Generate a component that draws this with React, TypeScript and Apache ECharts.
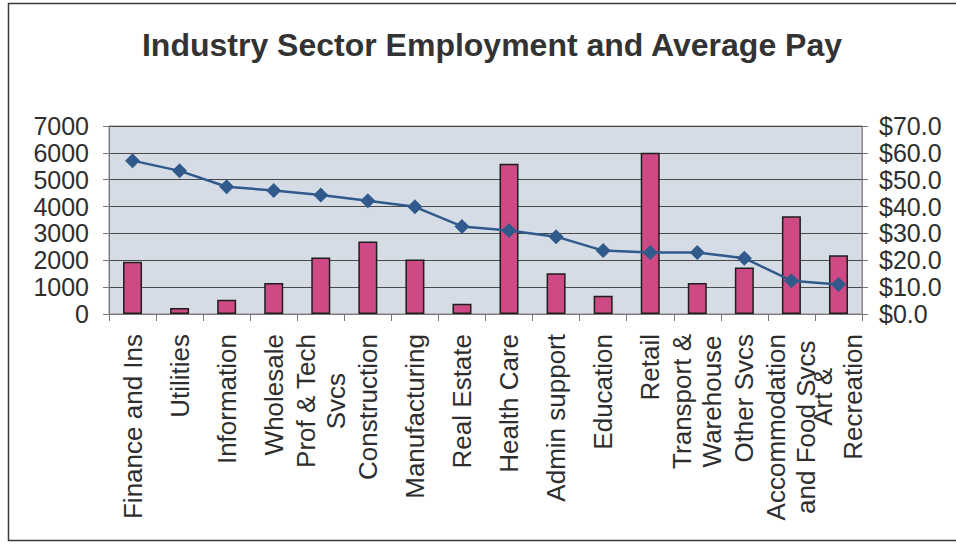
import React, { useEffect, useRef } from "react";
import * as echarts from "echarts";

const titleText = "Industry Sector Employment and Average Pay";
const categories = [
  "Finance and Ins",
  "Utilities",
  "Information",
  "Wholesale",
  "Prof & Tech\nSvcs",
  "Construction",
  "Manufacturing",
  "Real Estate",
  "Health Care",
  "Admin support",
  "Education",
  "Retail",
  "Transport &\nWarehouse",
  "Other Svcs",
  "Accommodation\nand Food Svcs",
  "Art &\nRecreation",
];
const employment = [1950, 220, 530, 1150, 2100, 2700, 2030, 380, 5590, 1520, 680, 6000, 1150, 1730, 3640, 2190];
const averagePay = [57.1, 53.3, 47.4, 46.0, 44.3, 42.2, 39.9, 32.6, 31.1, 28.8, 23.6, 22.9, 22.9, 20.8, 12.4, 11.0];

const FONT = "'Liberation Sans', Arial, Helvetica, sans-serif";
const TEXT = "#2e2e2e";
const CAT_FONT_SIZE = 26;

function measure(text: string, size: number): number {
  const c = document.createElement("canvas");
  const ctx = c.getContext("2d");
  if (!ctx) return text.length * size * 0.55;
  ctx.font = `${size}px ${FONT}`;
  return ctx.measureText(text).width;
}

export default function App() {
  const ref = useRef<HTMLDivElement>(null);
  useEffect(() => {
    if (!ref.current) return;
    const chart = echarts.init(ref.current, undefined, { renderer: "svg" });

    // Build rich styles so each line of a multi-line label is centred in its block.
    const rich: Record<string, any> = {};
    const labelMap: Record<string, string> = {};
    categories.forEach((cat, i) => {
      const lines = cat.split("\n");
      const widths = lines.map((l) => measure(l, CAT_FONT_SIZE));
      const maxW = Math.max(...widths);
      labelMap[cat] = lines
        .map((l, j) => {
          const name = `l${i}_${j}`;
          rich[name] = {
            fontFamily: FONT,
            fontSize: CAT_FONT_SIZE,
            lineHeight: 30,
            color: TEXT,
            padding: [0, (maxW - widths[j]) / 2, 0, 0],
          };
          return `{${name}|${l}}`;
        })
        .join("\n");
    });

    chart.setOption({
      animation: false,
      backgroundColor: "#ffffff",
      title: {
        text: titleText,
        left: 487,
        top: 24,
        textAlign: "center",
        textStyle: { fontFamily: FONT, fontSize: 32, fontWeight: "bold", color: "#333333" },
      },
      graphic: [
        {
          type: "rect",
          shape: { x: 8.5, y: 3.5, width: 960, height: 537 },
          style: { fill: "none", stroke: "#3a3a3a", lineWidth: 1.5 },
          silent: true,
          z: 100,
        },
      ],
      grid: {
        left: 109,
        right: 94,
        top: 126,
        bottom: 230,
        show: true,
        backgroundColor: "#d5dce5",
        borderColor: "#8a8a8a",
        borderWidth: 1,
      },
      xAxis: {
        type: "category",
        data: categories,
        boundaryGap: true,
        axisLine: { show: true, lineStyle: { color: "#777777", width: 1 } },
        axisTick: { show: true, length: 7, interval: 0, lineStyle: { color: "#777777" } },
        axisLabel: {
          interval: 0,
          rotate: 90,
          margin: 20,
          hideOverlap: false,
          fontFamily: FONT,
          fontSize: CAT_FONT_SIZE,
          color: TEXT,
          formatter: (v: string) => labelMap[v] || v,
          rich,
        },
      },
      yAxis: [
        {
          type: "value",
          min: 0,
          max: 7000,
          interval: 1000,
          axisLine: { show: true, lineStyle: { color: "#777777" } },
          axisTick: { show: true, length: 6, lineStyle: { color: "#777777" } },
          axisLabel: {
            fontFamily: FONT,
            fontSize: 25,
            color: TEXT,
            margin: 20,
            formatter: (v: number) => String(v),
          },
          splitLine: { show: true, lineStyle: { color: "#4a4a4a", width: 1 } },
        },
        {
          type: "value",
          min: 0,
          max: 70,
          interval: 10,
          position: "right",
          axisLine: { show: true, lineStyle: { color: "#8a8a8a" } },
          axisTick: { show: true, length: 6, lineStyle: { color: "#777777" } },
          axisLabel: {
            fontFamily: FONT,
            fontSize: 25,
            color: TEXT,
            margin: 17,
            formatter: (v: number) => "$" + v.toFixed(1),
          },
          splitLine: { show: false },
        },
      ],
      series: [
        {
          name: "Employment",
          type: "bar",
          yAxisIndex: 0,
          data: employment,
          barWidth: 19,
          itemStyle: { color: "#cd4a85", borderColor: "#1e1e1e", borderWidth: 1.5 },
          z: 2,
        },
        {
          name: "Average Pay",
          type: "line",
          yAxisIndex: 1,
          data: averagePay,
          symbol: "diamond",
          symbolSize: 15,
          lineStyle: { color: "#305a8c", width: 2.5 },
          itemStyle: { color: "#305a8c" },
          z: 3,
        },
      ],
    });
    return () => chart.dispose();
  }, []);
  return (
    <div
      ref={ref}
      style={{ position: "fixed", left: 0, top: 0, width: 956, height: 544 }}
    />
  );
}
